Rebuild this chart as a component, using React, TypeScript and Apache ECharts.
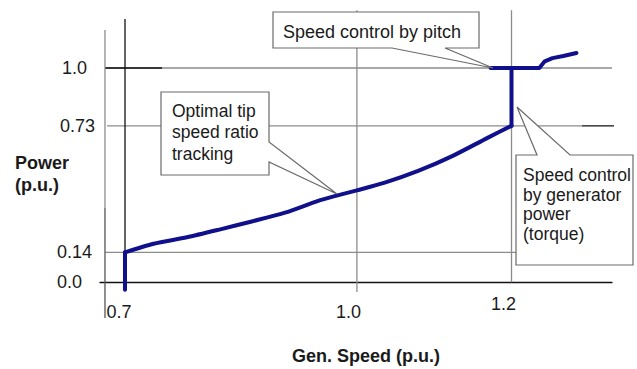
import React, { useEffect, useRef } from 'react';
import * as echarts from 'echarts';

// Optimal tip-speed-ratio tracking + torque control (generator speed vs power, p.u.)
const genSpeed = [0.7, 0.7, 0.737, 0.78, 0.822, 0.864, 0.907, 0.949, 0.97, 1.0, 1.036, 1.08, 1.124, 1.169, 1.2, 1.2];
const genPower = [-0.035, 0.14, 0.18, 0.21, 0.246, 0.284, 0.325, 0.379, 0.401, 0.429, 0.465, 0.521, 0.59, 0.674, 0.73, 1.0];
// Pitch control region
const pitchSpeed = [1.173, 1.2, 1.236, 1.243, 1.253, 1.267, 1.284];
const pitchPower = [1.0, 1.0, 1.0, 1.031, 1.046, 1.056, 1.07];

const xTicks = [0.7, 1.0, 1.2];
const xTickLabels = ['0.7', '1.0', '1.2'];
const yTicks = [0.0, 0.14, 0.73, 1.0];
const yTickLabels = ['0.0', '0.14', '0.73', '1.0'];

const xAxisTitle = 'Gen. Speed (p.u.)';
const yAxisTitleLines = ['Power', '(p.u.)'];
const notePitch = 'Speed control by pitch';
const noteTip = 'Optimal tip\nspeed ratio\ntracking';
const noteTorque = 'Speed control\nby generator\npower\n(torque)';

const FONT = '"Liberation Sans", Arial, Helvetica, sans-serif';

export default function App() {
  const ref = useRef<HTMLDivElement>(null);

  useEffect(() => {
    if (!ref.current) return;
    const chart = echarts.init(ref.current, null, { renderer: 'svg' });

    const gray = '#8c8c8c';
    const black = '#111111';
    const curveColor = '#10108c';
    const textColor = '#1a1a1a';

    // guide lines: [x1, y1, x2, y2, color]
    const guides: [number, number, number, number, string][] = [
      [0.6741, yTicks[3], 1.33, yTicks[3], gray],
      [0.6741, yTicks[3], 0.7479, yTicks[3], black],
      [0.6767, yTicks[2], 1.2912, yTicks[2], gray],
      [1.2912, yTicks[2], 1.3339, yTicks[2], black],
      [0.6741, yTicks[1], 1.25, yTicks[1], gray],
      [xTicks[0], 0, xTicks[0], 1.2287, black],
      [xTicks[1], -0.045, xTicks[1], 1.27, gray],
      [xTicks[2], 0, xTicks[2], 1.27, gray],
      [0.6741, 0.347, 0.6741, 1.177, gray],
      [0.6741, -0.1666, 0.6741, 0.347, '#555555'],
    ];

    const guideSeries = guides.map((g) => ({
      type: 'line',
      data: [[g[0], g[1]], [g[2], g[3]]],
      symbol: 'none',
      silent: true,
      clip: false,
      z: 1,
      lineStyle: { color: g[4], width: 1.3 },
    }));

    const xPad = [12, 17, 16];
    const xLh = [52.4, 52.4, 35.4];
    const yPad = [13, 3, 0, 8];
    const xRich: any = {};
    xTicks.forEach((_, i) => {
      xRich['x' + i] = {
        fontSize: 18, fontFamily: FONT, color: textColor,
        lineHeight: xLh[i], padding: [0, xPad[i], 0, 0],
      };
    });
    const yRich: any = {};
    yTicks.forEach((_, i) => {
      yRich['y' + i] = {
        fontSize: 18, fontFamily: FONT, color: textColor,
        padding: [0, yPad[i], 0, 0],
      };
    });

    const findIdx = (arr: number[], v: number) => arr.findIndex((t) => Math.abs(t - v) < 1e-6);

    const mainPts = genSpeed.map((x, i) => [x, genPower[i]]);
    const n = mainPts.length;
    const curveStyle = { color: curveColor, width: 4, cap: 'round', join: 'round' };
    const titleStyle = { fontFamily: FONT, fontSize: 18, fontWeight: 'bold', color: textColor, lineHeight: 22 };

    chart.setOption({
      animation: false,
      backgroundColor: '#ffffff',
      grid: { left: 100, top: 10, width: 512, height: 272.3, containLabel: false, outerBoundsMode: 'none' },
      xAxis: {
        type: 'value',
        min: 0.66766,
        max: 1.33001,
        name: xAxisTitle,
        nameLocation: 'middle',
        nameGap: 64,
        nameMoveOverlap: false,
        nameTextStyle: {
          fontFamily: FONT, fontSize: 18, fontWeight: 'bold', color: textColor,
          lineHeight: 20, padding: [0, 0, 0, 20],
        },
        axisLine: { show: true, onZero: false, lineStyle: { color: black, width: 1.3 } },
        axisTick: { show: false },
        splitLine: { show: false },
        axisLabel: {
          customValues: xTicks,
          margin: 4,
          formatter: (v: number) => {
            const i = findIdx(xTicks, v);
            return i < 0 ? '' : `{x${i}|${xTickLabels[i]}}`;
          },
          rich: xRich,
        },
      },
      yAxis: {
        type: 'value',
        min: 0,
        max: 1.2706,
        name: `{g| }\n${yAxisTitleLines.map((s) => `{t|${s}}`).join('\n')}`,
        nameLocation: 'middle',
        nameRotate: 0,
        nameGap: 85,
        nameMoveOverlap: false,
        nameTextStyle: {
          ...titleStyle,
          align: 'left',
          rich: {
            g: { ...titleStyle, lineHeight: 56 },
            t: { ...titleStyle },
          },
        },
        axisLine: { show: false },
        axisTick: { show: false },
        splitLine: { show: false },
        axisLabel: {
          customValues: yTicks,
          margin: 5,
          formatter: (v: number) => {
            const i = findIdx(yTicks, v);
            return i < 0 ? '' : `{y${i}|${yTickLabels[i]}}`;
          },
          rich: yRich,
        },
      },
      series: [
        ...guideSeries,
        {
          type: 'line',
          name: 'Start-up',
          data: mainPts.slice(0, 2),
          symbol: 'none',
          clip: false,
          z: 5,
          lineStyle: curveStyle,
        },
        {
          type: 'line',
          name: 'Optimal tip speed ratio tracking',
          data: mainPts.slice(1, n - 1),
          symbol: 'none',
          clip: false,
          smooth: 0.25,
          z: 5,
          lineStyle: curveStyle,
        },
        {
          type: 'line',
          name: 'Speed control by generator power',
          data: mainPts.slice(n - 2),
          symbol: 'none',
          clip: false,
          z: 5,
          lineStyle: curveStyle,
        },
        {
          type: 'line',
          name: 'Speed control by pitch',
          data: pitchSpeed.map((x, i) => [x, pitchPower[i]]),
          symbol: 'none',
          clip: false,
          z: 5,
          lineStyle: curveStyle,
        },
      ],
      graphic: [
        {
          type: 'polygon', z: 100,
          shape: { points: [[273, 12], [479, 12], [479, 48], [445, 48], [493, 68], [392, 48], [273, 48]] },
          style: { fill: '#ffffff', stroke: '#6a6a6a', lineWidth: 1.2 },
        },
        {
          type: 'text', z: 101, x: 283, y: 22,
          style: { text: notePitch, fontFamily: FONT, fontSize: 18, lineHeight: 20, fill: textColor, verticalAlign: 'top' },
        },
        {
          type: 'polygon', z: 100,
          shape: { points: [[161, 92], [269, 92], [269, 142], [337, 194], [269, 162], [269, 175], [161, 175]] },
          style: { fill: '#ffffff', stroke: '#6a6a6a', lineWidth: 1.2 },
        },
        {
          type: 'text', z: 101, x: 172, y: 100,
          style: { text: noteTip, fontFamily: FONT, fontSize: 17.5, lineHeight: 21.5, fill: textColor, verticalAlign: 'top' },
        },
        {
          type: 'polygon', z: 100,
          shape: { points: [[516, 155], [537, 155], [517, 107], [570, 155], [633, 155], [633, 265], [516, 265]] },
          style: { fill: '#ffffff', stroke: '#6a6a6a', lineWidth: 1.2 },
        },
        {
          type: 'text', z: 101, x: 523, y: 165.6,
          style: { text: noteTorque, fontFamily: FONT, fontSize: 17.5, lineHeight: 19.5, fill: textColor, verticalAlign: 'top' },
        },
      ],
    });

    return () => chart.dispose();
  }, []);

  return (
    <div
      ref={ref}
      style={{ position: 'absolute', left: 0, top: 0, width: 637, height: 369, background: '#fff' }}
    />
  );
}
